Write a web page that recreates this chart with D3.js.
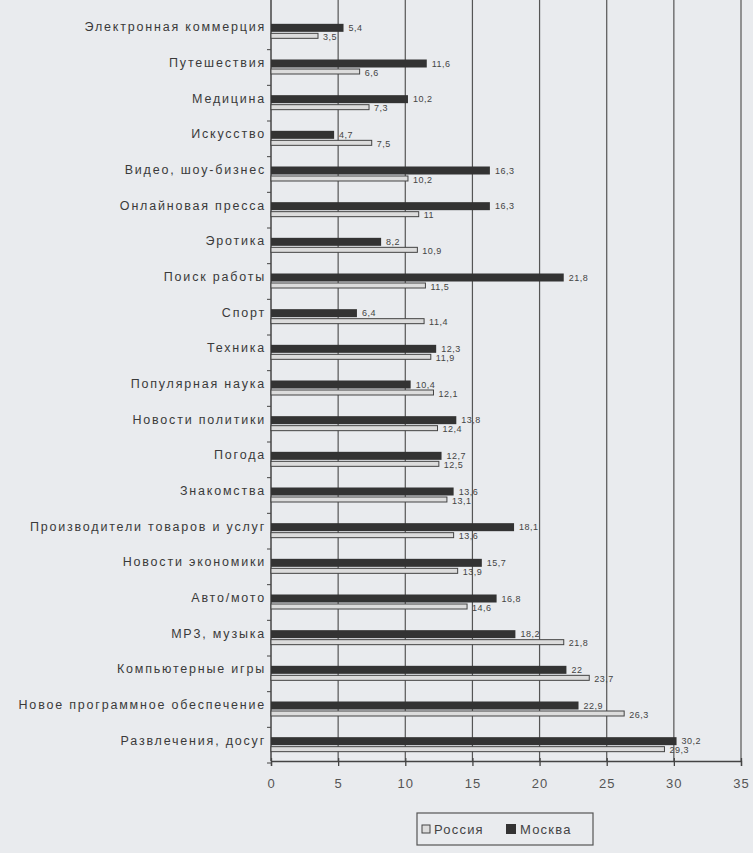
<!DOCTYPE html>
<html>
<head>
<meta charset="utf-8">
<script src="https://cdn.jsdelivr.net/npm/d3@7"></script>
<style>
  body { margin: 0; background: #e9ebee; }
  text { font-family: "Liberation Sans", Arial, sans-serif; }
</style>
</head>
<body>
<div id="chart"></div>
<script>
// categories, top to bottom
var categories = [
  "Электронная коммерция", "Путешествия", "Медицина", "Искусство",
  "Видео, шоу-бизнес", "Онлайновая пресса", "Эротика", "Поиск работы",
  "Спорт", "Техника", "Популярная наука", "Новости политики", "Погода",
  "Знакомства", "Производители товаров и услуг", "Новости экономики",
  "Авто/мото", "MP3, музыка", "Компьютерные игры",
  "Новое программное обеспечение", "Развлечения, досуг"
];
var moscow = [5.4, 11.6, 10.2, 4.7, 16.3, 16.3, 8.2, 21.8, 6.4, 12.3, 10.4,
  13.8, 12.7, 13.6, 18.1, 15.7, 16.8, 18.2, 22, 22.9, 30.2];
var russia = [3.5, 6.6, 7.3, 7.5, 10.2, 11.0, 10.9, 11.5, 11.4, 11.9, 12.1,
  12.4, 12.5, 13.1, 13.6, 13.9, 14.6, 21.8, 23.7, 26.3, 29.3];
var xTicks = [0, 5, 10, 15, 20, 25, 30, 35];

var svgWidth = 753;
var svgHeight = 853;
var margin = { top: 14, left: 271 };
var width = 470;
var height = 749;

var fmt = function(v) { return String(v).replace(".", ","); };

var svg = d3.select("#chart")
  .append("svg")
  .attr("width", svgWidth)
  .attr("height", svgHeight);

svg.append("rect")
  .attr("width", svgWidth)
  .attr("height", svgHeight)
  .attr("fill", "#e9ebee");

var g = svg.append("g")
  .attr("transform", `translate(${margin.left}, ${margin.top})`);

var x = d3.scaleLinear().domain([0, 35]).range([0, width]);
var y = d3.scaleBand().domain(categories).range([0, height]);

// vertical gridlines
g.selectAll(".grid")
  .data(xTicks.slice(1))
  .enter()
  .append("line")
  .attr("x1", d => x(d))
  .attr("x2", d => x(d))
  .attr("y1", -margin.top)
  .attr("y2", height - 2)
  .attr("stroke", "#555")
  .attr("stroke-width", 1.2);

// bottom axis
var bottomAxis = d3.axisBottom(x).tickValues(xTicks).tickSize(5).tickPadding(13);
var xAxis = g.append("g")
  .attr("transform", `translate(0, ${height - 2})`)
  .call(bottomAxis);
xAxis.select(".domain").attr("stroke", "#444").attr("stroke-width", 1.3);
xAxis.selectAll(".tick line")
  .attr("y1", -3)
  .attr("stroke", "#444")
  .attr("stroke-width", 1.3);
xAxis.selectAll(".tick text")
  .attr("font-size", "13px")
  .attr("letter-spacing", "1px")
  .attr("fill", "#555");

// left axis
var leftAxis = d3.axisLeft(y).tickSize(0).tickPadding(5);
var yAxis = g.append("g").call(leftAxis);
yAxis.select(".domain").remove();
yAxis.selectAll(".tick text")
  .attr("font-size", "12.5px")
  .attr("letter-spacing", "1.8px")
  .attr("fill", "#3a3a3a")
  .attr("dy", "-0.05em");

g.append("line")
  .attr("x1", 0).attr("x2", 0)
  .attr("y1", -margin.top).attr("y2", height - 2)
  .attr("stroke", "#444")
  .attr("stroke-width", 1.5);

// small ticks between categories
g.selectAll(".ytick")
  .data(categories)
  .enter()
  .append("line")
  .attr("x1", -4).attr("x2", 0)
  .attr("y1", d => y(d) + y.bandwidth())
  .attr("y2", d => y(d) + y.bandwidth())
  .attr("stroke", "#444");

// Moscow bars
g.selectAll(".moscow")
  .data(moscow)
  .enter()
  .append("rect")
  .attr("x", 0)
  .attr("y", (d, i) => y(categories[i]) + y.bandwidth() / 2 - 8)
  .attr("width", d => x(d))
  .attr("height", 8)
  .attr("fill", "#333");

// Russia bars
g.selectAll(".russia")
  .data(russia)
  .enter()
  .append("rect")
  .attr("x", 0)
  .attr("y", (d, i) => y(categories[i]) + y.bandwidth() / 2 + 1.5)
  .attr("width", d => x(d))
  .attr("height", 5)
  .attr("fill", "#dcdcdc")
  .attr("stroke", "#444")
  .attr("stroke-width", 1);

// value labels
g.selectAll(".mlabel")
  .data(moscow)
  .enter()
  .append("text")
  .attr("x", d => x(d) + 5)
  .attr("y", (d, i) => y(categories[i]) + y.bandwidth() / 2 - 4)
  .attr("dy", "0.35em")
  .attr("font-size", "9px")
  .attr("letter-spacing", "0.5px")
  .attr("fill", "#444")
  .text(d => fmt(d));

g.selectAll(".rlabel")
  .data(russia)
  .enter()
  .append("text")
  .attr("x", d => x(d) + 5)
  .attr("y", (d, i) => y(categories[i]) + y.bandwidth() / 2 + 5)
  .attr("dy", "0.35em")
  .attr("font-size", "9px")
  .attr("letter-spacing", "0.5px")
  .attr("fill", "#444")
  .text(d => fmt(d));

// legend
var legend = svg.append("g").attr("transform", "translate(417, 813)");
legend.append("rect")
  .attr("width", 176).attr("height", 32)
  .attr("fill", "none")
  .attr("stroke", "#555")
  .attr("stroke-width", 1.2);
legend.append("rect")
  .attr("x", 5).attr("y", 12).attr("width", 8).attr("height", 8)
  .attr("fill", "#dcdcdc").attr("stroke", "#444");
legend.append("text")
  .attr("x", 17).attr("y", 16).attr("dy", "0.35em")
  .attr("font-size", "13px").attr("letter-spacing", "1.2px").attr("fill", "#444")
  .text("Россия");
legend.append("rect")
  .attr("x", 89).attr("y", 11).attr("width", 10).attr("height", 10)
  .attr("fill", "#333");
legend.append("text")
  .attr("x", 103).attr("y", 16).attr("dy", "0.35em")
  .attr("font-size", "13px").attr("letter-spacing", "1.2px").attr("fill", "#444")
  .text("Москва");
</script>
</body>
</html>
